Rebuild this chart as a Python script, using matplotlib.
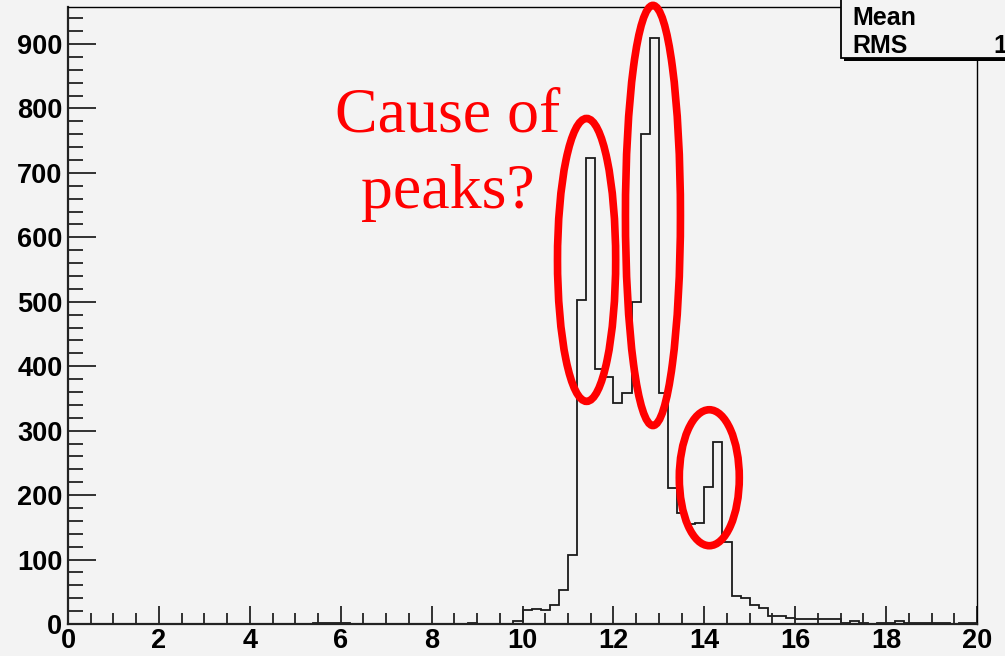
import matplotlib
matplotlib.use('Agg')
import matplotlib.pyplot as plt
from matplotlib.patches import Ellipse, Rectangle
from matplotlib.ticker import MultipleLocator
import numpy as np

# 100 bins of width 0.2 over [0, 20]
edges = np.linspace(0, 20, 101)
counts = [
    0, 0, 0, 0, 0, 0, 0, 0, 0, 0,          # 0.0 - 2.0
    0, 0, 0, 0, 0, 0, 0, 0, 0, 0,          # 2.0 - 4.0
    0, 0, 0, 0, 0, 0, 0, 2, 2, 1,          # 4.0 - 6.0
    1, 0, 0, 0, 0, 0, 0, 0, 0, 0,          # 6.0 - 8.0
    0, 0, 0, 0, 1, 0, 0, 0, 0, 4,          # 8.0 - 10.0
    22, 24, 22, 30, 53, 107, 503, 723, 395, 384,     # 10.0 - 12.0
    343, 358, 499, 761, 910, 358, 211, 172, 155, 156,  # 12.0 - 14.0
    213, 283, 127, 43, 41, 30, 25, 13, 12, 10,       # 14.0 - 16.0
    8, 8, 8, 7, 7, 2, 4, 1, 0, 1,          # 16.0 - 18.0
    1, 4, 1, 1, 1, 1, 1, 0, 1, 1,          # 18.0 - 20.0
]

# circled peaks: (x centre, y centre, width, height)
peak_marks = [
    (11.41, 565, 1.28, 439),
    (12.87, 634, 1.21, 652),
    (14.11, 227, 1.32, 211),
]
note_lines = ['Cause of', 'peaks?']

BG = '#f3f3f3'
W, H = 1005, 656

fig = plt.figure(figsize=(W / 100, H / 100), dpi=100, facecolor=BG)
ax = fig.add_axes([68 / W, 1 - 624 / H, (977 - 68) / W, (624 - 7) / H])
ax.set_facecolor(BG)

ax.stairs(counts, edges, color='#1a1a1a', linewidth=1.3)

ax.set_xlim(0, 20)
ax.set_ylim(0, 957.5)

ax.xaxis.set_major_locator(MultipleLocator(2))
ax.xaxis.set_minor_locator(MultipleLocator(0.5))
ax.yaxis.set_major_locator(MultipleLocator(100))
ax.yaxis.set_minor_locator(MultipleLocator(20))

ax.tick_params(axis='both', which='both', direction='in', top=False, right=False,
               width=1.3, color='#222222')
ax.tick_params(axis='x', which='major', length=13, pad=3)
ax.tick_params(axis='x', which='minor', length=8)
ax.tick_params(axis='y', which='major', length=20, pad=4)
ax.tick_params(axis='y', which='minor', length=11)

for lab in ax.get_xticklabels() + ax.get_yticklabels():
    lab.set_family('Liberation Sans')
    lab.set_weight('bold')
    lab.set_fontsize(19.5)

for side in ('left', 'bottom'):
    ax.spines[side].set_linewidth(1.6)
    ax.spines[side].set_color('#222222')
for side in ('top', 'right'):
    ax.spines[side].set_linewidth(1.0)
    ax.spines[side].set_color('black')

for cx, cy, w, h in peak_marks:
    ax.add_patch(Ellipse((cx, cy), w, h, fill=False, edgecolor='red',
                         linewidth=5.5, clip_on=False, zorder=5))

fig.text(448 / W, 1 - 131.7 / H, note_lines[0], ha='center', va='baseline',
         family='Liberation Serif', fontsize=46, color='red')
fig.text(448 / W, 1 - 208 / H, note_lines[1], ha='center', va='baseline',
         family='Liberation Serif', fontsize=46, color='red')

# stats box in the top-right corner (runs off the canvas edge)
centres = 0.5 * (edges[:-1] + edges[1:])
c = np.asarray(counts, dtype=float)
mean = np.sum(c * centres) / c.sum()
rms = np.sqrt(np.sum(c * (centres - mean) ** 2) / c.sum())

bx0, by0 = 840.7 / W, 1 - 58.3 / H
shadow = Rectangle((bx0 + 3 / W, by0 - 3 / H), 1.1 - bx0, 0.2,
                   transform=fig.transFigure, facecolor='black',
                   edgecolor='none', zorder=3)
box = Rectangle((bx0, by0), 1.1 - bx0, 0.2, transform=fig.transFigure,
                facecolor=BG, edgecolor='black', linewidth=1.3, zorder=4)
fig.add_artist(shadow)
fig.add_artist(box)

stat_font = dict(family='Liberation Sans', weight='bold', fontsize=18,
                 color='black', va='baseline', zorder=5)
fig.text(852 / W, 1 - 25 / H, 'Mean', ha='left', **stat_font)
fig.text(852 / W, 1 - 52.7 / H, 'RMS', ha='left', **stat_font)
fig.text(993 / W, 1 - 52.7 / H, f'{rms:.4g}', ha='left', **stat_font)

fig.savefig('out.png', dpi=100, facecolor=BG)
